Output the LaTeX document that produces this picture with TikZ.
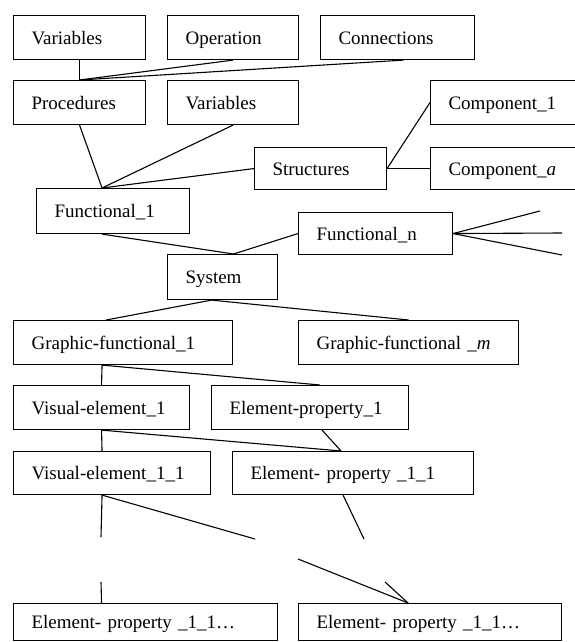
\documentclass[tikz,border=0pt]{standalone}
\usepackage{fontspec}
\setmainfont{Liberation Serif}
\newfontfamily\boxfont{Liberation Serif}

\begin{document}
\begin{tikzpicture}[
		x=1pt, y=-1pt,
		line width=1.1pt,
		blk/.style={
			draw,
			anchor=north west,
			align=left,
			inner xsep=18pt,
			inner ysep=0pt,
			minimum height=44pt,
			text height=13pt,
			text depth=0pt,
			font=\boxfont\fontsize{19}{22}\selectfont
		}
		]
		\useasboundingbox (0,0) rectangle (575,642);
		
		% Top row
		\node[blk, text width=96pt] (vars) at (13,15) {Variables};
		\node[blk, text width=95pt] (oper) at (167,15) {Operation};
		\node[blk, text width=118pt] (conn) at (320,15) {Connections};
		
		% Second row
		\node[blk, text width=96pt] (proc) at (13,80) {Procedures};
		\node[blk, text width=95pt] (varsb) at (167,80) {Variables};
		\node[blk, text width=124pt] (compo) at (430,80) {Component\_1};
		
		% Structures
		\node[blk, text width=96pt, minimum height=42pt] (struct) at (254,147) {Structures};
		\node[blk, text width=124pt, minimum height=42pt] (compa) at (430,147) {Component\_\textit{a}};
		
		% Functionals and system
		\node[blk, text width=117pt, minimum height=45pt] (funo) at (36,188) {Functional\_1};
		\node[blk, text width=118pt, minimum height=42pt] (funn) at (298,212) {Functional\_n};
		\node[blk, text width=74pt, minimum height=45pt] (sys) at (167,254) {System};
		
		% Graphic-functionals
		\node[blk, text width=183pt] (gfo) at (13,320) {Graphic-functional\_1};
		\node[blk, text width=184pt] (gfm) at (298,320) {Graphic-functional \_\textit{m}};
		
		% Visual elements and properties
		\node[blk, text width=140pt] (veo) at (13,385) {Visual-element\_1};
		\node[blk, text width=161pt] (epo) at (211,385) {Element-property\_1};
		\node[blk, text width=161pt, minimum height=43pt] (veoo) at (13,451) {Visual-element\_1\_1};
		\node[blk, text width=205pt, minimum height=43pt] (epoo) at (232,451) {Element- property \_1\_1};
		
		% Bottom
		\node[blk, text width=228pt, minimum height=37pt] (epl) at (13,603) {Element- property \_1\_1…};
		\node[blk, text width=227pt, minimum height=37pt] (epr) at (298,603) {Element- property \_1\_1…};
		
		% Free ends
		\coordinate (fana) at (540,211);
		\coordinate (fanb) at (562,233);
		\coordinate (fanc) at (562,255);
		\coordinate (gapa) at (101,537);
		\coordinate (gapb) at (101,582);
		\coordinate (gapc) at (255,539);
		\coordinate (gapd) at (298,559);
		\coordinate (gape) at (364,539);
		\coordinate (gapf) at (385,582);
		
		% Connections
		\draw (vars.south) -- (proc.north);
		\draw (oper.south) -- (proc.north);
		\draw ([xshift=6pt]conn.south) -- (proc.north);
		
		\draw (proc.south) -- ([xshift=-11pt]funo.north);
		\draw (varsb.south) -- ([xshift=-11pt]funo.north);
		\draw (struct.west) -- ([xshift=-11pt]funo.north);
		\draw (struct.east) -- (compo.west);
		\draw (struct.east) -- (compa.west);
		
		\draw ([xshift=-11pt]funo.south) -- ([xshift=11pt]sys.north);
		\draw (funn.west) -- ([xshift=11pt]sys.north);
		\draw (funn.east) -- (fana);
		\draw (funn.east) -- (fanb);
		\draw (funn.east) -- (fanc);
		
		\draw ([xshift=-11pt]sys.south) -- ([xshift=-17pt]gfo.north);
		\draw ([xshift=-11pt]sys.south) -- (gfm.north);
		
		\draw ([xshift=-21pt]gfo.south) -- (veo.north);
		\draw ([xshift=-21pt]gfo.south) -- ([xshift=10pt]epo.north);
		\draw (veo.south) -- ([xshift=-10pt]veoo.north);
		\draw (veo.south) -- ([xshift=-12pt]epoo.north);
		\draw ([xshift=12pt]epo.south) -- ([xshift=-12pt]epoo.north);
		
		\draw ([xshift=-10pt]veoo.south) -- (gapa);
		\draw (gapb) -- ([xshift=-44pt]epl.north);
		\draw ([xshift=-10pt]veoo.south) -- (gapc);
		\draw (gapd) -- ([xshift=-22pt]epr.north);
		\draw ([xshift=-10pt]epoo.south) -- (gape);
		\draw (gapf) -- ([xshift=-22pt]epr.north);
		
	\end{tikzpicture}
\end{document}
